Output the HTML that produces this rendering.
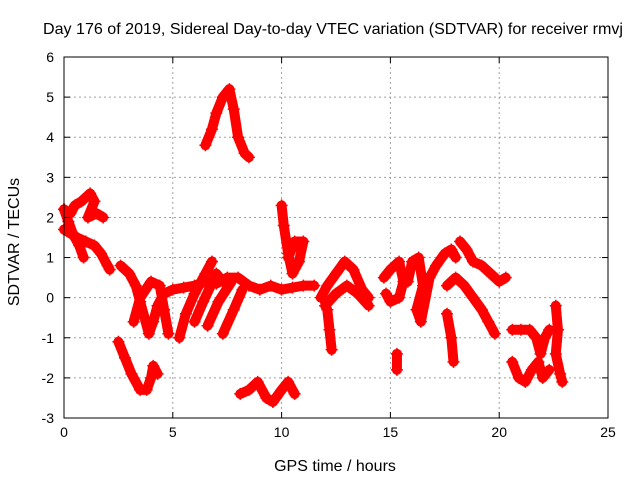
<!DOCTYPE html>
<html><head><meta charset="utf-8"><style>
body{margin:0;background:#fff}
svg text{font-family:"Liberation Sans",sans-serif;font-size:14px;fill:#000}
svg text.big{font-size:16px}
</style></head><body>
<svg id="chart" width="640" height="480" xmlns="http://www.w3.org/2000/svg">
<text class="big" x="333" y="34" text-anchor="middle" textLength="580" lengthAdjust="spacingAndGlyphs">Day 176 of 2019, Sidereal Day-to-day VTEC variation (SDTVAR) for receiver rmvj</text>
<text class="big" x="335" y="471" text-anchor="middle">GPS time / hours</text>
<text class="big" x="0" y="0" text-anchor="middle" transform="translate(19,242) rotate(-90)">SDTVAR / TECUs</text>
<g id="grid"></g><g id="marks"></g><g id="axes"></g>
</svg>
<script>
const xTicks=[0,5,10,15,20,25];
const yTicks=[-3,-2,-1,0,1,2,3,4,5,6];
const track1=[[0,2.2],[0.3,2.1],[0.5,2.3],[0.8,2.4],[1.2,2.6],[1.4,2.4],[1.1,2.0],[1.5,2.1],[1.8,2.0]];
const track2=[[0,1.7],[0.3,1.6],[0.6,1.5],[1,1.4],[1.4,1.3],[1.7,1.1],[2.0,0.8],[2.1,0.7]];
const track3=[[0,2.2],[0.2,1.9],[0.4,1.6],[0.7,1.3],[0.9,1.0]];
const track4=[[2.6,0.8],[3.0,0.6],[3.3,0.3],[3.5,-0.1],[3.7,-0.5],[3.9,-0.9],[4.1,-0.6],[4.3,-0.2],[4.6,0.1],[5,0.2],[5.5,0.25],[6,0.3],[6.5,0.4],[7,0.35],[7.5,0.5],[8,0.5],[8.5,0.3],[9,0.2],[9.5,0.3],[10,0.2],[10.5,0.25],[11,0.3],[11.5,0.3]];
const track5=[[2.5,-1.1],[2.8,-1.5],[3.1,-1.9],[3.5,-2.3],[3.8,-2.3],[4.0,-2.0],[4.1,-1.7],[4.3,-1.9]];
const track6a=[[5.3,-1.0],[5.6,-0.4],[6.0,0.1],[6.5,0.6],[6.8,0.9]];
const track6b=[[6.0,-0.6],[6.4,-0.1],[7.0,0.6],[7.3,0.4]];
const track6c=[[6.6,-0.7],[7.1,-0.1],[7.7,0.4]];
const track6d=[[7.3,-0.9],[7.8,-0.3],[8.2,0.2]];
const track6e=[[3.2,-0.6],[3.5,0.0],[4.0,0.4],[4.4,0.3],[4.6,-0.3],[4.8,-0.9]];
const track7=[[6.5,3.8],[6.8,4.2],[7.0,4.6],[7.3,5.0],[7.6,5.2],[7.8,4.7],[8.0,4.0],[8.3,3.6],[8.5,3.5]];
const track8=[[8.1,-2.4],[8.5,-2.3],[8.9,-2.1],[9.3,-2.5],[9.6,-2.6],[10,-2.3],[10.3,-2.1],[10.6,-2.4]];
const track9=[[10.0,2.3],[10.1,1.8],[10.3,1.1],[10.5,0.6],[10.8,0.9],[11.0,1.4],[10.6,1.4],[10.3,1.0]];
const track10=[[11.8,0.0],[12.1,0.3],[12.5,0.6],[12.9,0.9],[13.3,0.7],[13.7,0.2],[14.0,0.0]];
const track11=[[12.0,-0.2],[12.5,0.1],[13,0.3],[13.5,0.1],[14,-0.2]];
const track12=[[12.1,-0.3],[12.2,-0.8],[12.3,-1.3]];
const track13=[[14.7,0.5],[15.0,0.7],[15.4,0.9],[15.6,0.4],[15.4,0.0],[15.0,-0.1],[14.8,0.1]];
const track14=[[15.3,-1.4],[15.3,-1.8]];
const track15=[[15.8,0.4],[16,0.9],[16.3,1.0],[16.5,0.3],[16.2,-0.3],[16.4,-0.6],[16.8,0.5],[17.1,0.8],[17.5,1.1],[17.8,1.2],[18.0,1.0]];
const track16=[[18.2,1.4],[18.5,1.2],[18.8,0.9],[19.2,0.8],[19.6,0.6],[20.0,0.4],[20.3,0.5]];
const track17=[[17.6,0.3],[18.0,0.5],[18.4,0.3],[18.8,0.0],[19.2,-0.3],[19.5,-0.6],[19.8,-0.9]];
const track18=[[17.6,-0.4],[17.8,-1.0],[17.9,-1.6]];
const track19=[[20.6,-0.8],[21.0,-0.8],[21.4,-0.8],[21.7,-1.0],[21.9,-1.4],[22.1,-1.0],[22.3,-0.8]];
const track20=[[20.6,-1.6],[20.9,-2.0],[21.2,-2.1],[21.5,-1.8],[21.8,-1.6],[22.0,-2.0],[22.3,-1.8]];
const track21=[[22.6,-0.2],[22.7,-0.8],[22.6,-1.4],[22.8,-1.9],[22.9,-2.1]];
const tracks=[track1,track2,track3,track4,track5,track6a,track6b,track6c,track6d,track6e,track7,track8,track9,track10,track11,track12,track13,track14,track15,track16,track17,track18,track19,track20,track21];

const X0=64,X1=608,Y0=418,Y1=57;
const sx=v=>X0+(v-0)/(25-0)*(X1-X0);
const sy=v=>Y0-(v+3)/(9)*(Y0-Y1);
const NS="http://www.w3.org/2000/svg";
function mk(tag,parent,attrs){const e=document.createElementNS(NS,tag);for(const k in attrs)e.setAttribute(k,attrs[k]);parent.appendChild(e);return e;}
const grid=document.getElementById('grid'),marks=document.getElementById('marks'),axes=document.getElementById('axes');
xTicks.forEach(t=>{
  if(t>0&&t<25){const g=mk('line',grid,{x1:sx(t),x2:sx(t),y1:Y1,y2:Y0,stroke:'#a0a0a0','stroke-dasharray':'2,3'});
  
  }
  mk('line',axes,{x1:sx(t),x2:sx(t),y1:Y0,y2:Y0-6,stroke:'#000'});
  mk('line',axes,{x1:sx(t),x2:sx(t),y1:Y1,y2:Y1+6,stroke:'#000'});
  const l=mk('text',axes,{x:sx(t),y:Y0+19,'text-anchor':'middle'});l.textContent=t;
  
  
});
yTicks.forEach(t=>{
  if(t>-3&&t<6){const g=mk('line',grid,{x1:X0,x2:X1,y1:sy(t),y2:sy(t),stroke:'#a0a0a0','stroke-dasharray':'2,3'});
  
  }
  mk('line',axes,{x1:X0,x2:X0+6,y1:sy(t),y2:sy(t),stroke:'#000'});
  mk('line',axes,{x1:X1,x2:X1-6,y1:sy(t),y2:sy(t),stroke:'#000'});
  const l=mk('text',axes,{x:X0-10,y:sy(t)+5,'text-anchor':'end'});l.textContent=t;
  
  
});
const frame=mk('rect',axes,{x:X0,y:Y1,width:X1-X0,height:Y0-Y1,fill:'none',stroke:'#000'});


tracks.forEach(tr=>{
  const pl=mk('polyline',marks,{points:tr.map(p=>sx(p[0])+','+sy(p[1])).join(' '),fill:'none',stroke:'#f00','stroke-width':10,'stroke-linejoin':'round','stroke-linecap':'round'});
  
  
  tr.forEach(p=>{
    const c=mk('path',marks,{d:`M${sx(p[0])-6},${sy(p[1])}h12M${sx(p[0])},${sy(p[1])-6}v12`,stroke:'#f00','stroke-width':1.5});
    
    
  });
});
</script>
</body></html>
